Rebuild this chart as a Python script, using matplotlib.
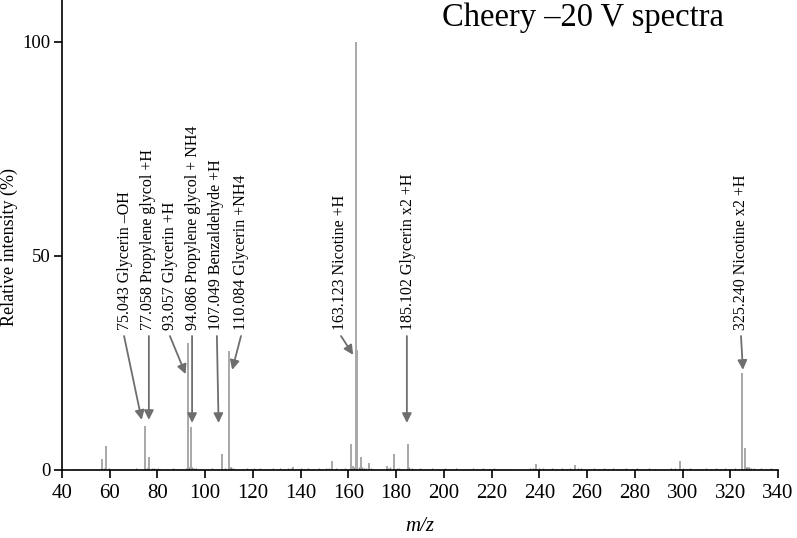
import matplotlib
matplotlib.use('Agg')
import matplotlib.pyplot as plt

plt.rcParams['font.family'] = ['Liberation Serif', 'DejaVu Serif']

# main peaks (m/z, relative intensity %)
peak_mz = [56.6, 58.6, 74.8, 76.6, 92.6, 93.9, 107.0, 109.8, 110.4, 136.9,
           153.0, 161.1, 162.0, 163.0, 163.8, 165.1, 168.8, 176.0, 179.0,
           184.8, 238.7, 254.9, 299.0, 325.1, 326.0, 327.3]
peak_int = [2.6, 5.6, 10.3, 3.0, 29.6, 10.0, 3.8, 27.9, 0.8, 0.8,
            2.1, 6.0, 1.0, 100.0, 28.0, 3.1, 1.6, 0.9, 3.7,
            6.0, 1.4, 1.2, 2.1, 22.6, 5.1, 0.8]

# small baseline peaks
noise_mz = [44.6, 46.7, 57.8, 59.5, 63.0, 65.0, 67.2, 69.1, 71.0, 75.5, 76.0,
            77.8, 78.4, 79.2, 80.1, 81.0, 84.0, 86.5, 89.0, 92.0, 93.3, 94.5,
            95.1, 96.0, 98.0, 101.0, 103.0, 105.0, 108.3, 110.9, 111.5, 112.2,
            116.0, 117.5, 119.0, 120.5, 122.0, 123.0, 126.0, 128.5, 130.0,
            131.5, 133.0, 134.5, 136.0, 138.5, 140.0, 141.5, 143.0, 145.0,
            147.5, 149.0, 150.5, 152.0, 155.0, 157.0, 158.5, 162.4, 164.4,
            165.8, 166.5, 167.2, 169.5, 170.2, 176.5, 177.3, 180.2, 181.0,
            185.6, 186.5, 188.0, 190.0, 192.5, 195.0, 198.0, 200.5, 203.0,
            205.0, 209.0, 212.0, 214.0, 216.5, 219.0, 221.0, 224.0, 226.0,
            236.0, 237.5, 240.0, 241.5, 243.0, 245.5, 247.0, 249.5, 251.0,
            253.0, 256.0, 257.5, 261.0, 263.0, 265.0, 267.0, 269.0, 271.0,
            274.0, 276.5, 279.0, 281.0, 283.5, 286.0, 288.5, 295.0, 297.0,
            300.0, 301.5, 303.0, 308.0, 310.0, 312.0, 314.0, 316.0, 318.0,
            320.0, 322.0, 324.0, 326.8, 327.8, 328.5, 330.0, 331.5, 333.0,
            335.0, 337.0, 339.0]
noise_int = [0.3, 0.3, 0.4, 0.5, 0.3, 0.3, 0.3, 0.3, 0.4, 0.5, 0.6,
             0.5, 0.4, 0.3, 0.4, 0.3, 0.3, 0.4, 0.3, 0.4, 0.6, 0.7,
             0.5, 0.4, 0.3, 0.3, 0.4, 0.3, 0.5, 0.6, 0.5, 0.3,
             0.3, 0.4, 0.3, 0.4, 0.3, 0.4, 0.3, 0.4, 0.3,
             0.4, 0.3, 0.5, 0.4, 0.3, 0.4, 0.3, 0.4, 0.3,
             0.4, 0.3, 0.4, 0.5, 0.4, 0.3, 0.4, 0.7, 0.8,
             0.6, 0.5, 0.5, 0.4, 0.3, 0.5, 0.6, 0.5, 0.4,
             0.6, 0.5, 0.3, 0.4, 0.3, 0.4, 0.3, 0.4, 0.3,
             0.4, 0.3, 0.4, 0.3, 0.4, 0.3, 0.4, 0.3, 0.3,
             0.4, 0.5, 0.5, 0.4, 0.3, 0.4, 0.3, 0.4, 0.3,
             0.4, 0.5, 0.4, 0.3, 0.4, 0.3, 0.4, 0.3, 0.4,
             0.3, 0.4, 0.3, 0.4, 0.3, 0.4, 0.3, 0.4, 0.5,
             0.4, 0.3, 0.4, 0.3, 0.4, 0.3, 0.4, 0.3, 0.4,
             0.3, 0.4, 0.3, 0.7, 0.6, 0.5, 0.4, 0.3, 0.4,
             0.3, 0.4, 0.3]

# annotations
labels = ["75.043 Glycerin –OH", "77.058 Propylene glycol +H",
          "93.057 Glycerin +H", "94.086 Propylene glycol + NH4",
          "107.049 Benzaldehyde +H", "110.084 Glycerin +NH4",
          "163.123 Nicotine +H", "185.102 Glycerin x2 +H",
          "325.240 Nicotine x2 +H"]
label_x = [66.4, 75.9, 85.4, 95.0, 104.5, 114.9, 156.5, 185.1, 324.5]
arrow_from_x = [66.0, 76.4, 85.2, 94.5, 104.9, 115.0, 156.9, 184.5, 324.5]
arrow_to_x = [73.4, 76.4, 91.8, 94.5, 105.6, 111.3, 162.0, 184.5, 325.3]
arrow_to_y = [11.7, 11.7, 22.4, 11.0, 11.0, 23.4, 26.9, 11.0, 23.4]
label_y = 32.7
arrow_from_y = 31.3

xticks = list(range(40, 341, 20))
yticks = [0, 50, 100]

fig = plt.figure(figsize=(7.97, 5.38), dpi=100)
ax = fig.add_axes([62 / 797, 68 / 538, 716 / 797, 470 / 538])

ax.vlines(noise_mz, 0, noise_int, color='#8c8c8c', lw=1.0)
ax.vlines(peak_mz, 0, peak_int, color='#a8a8a8', lw=1.4)

for lab, tx, fx, px, py in zip(labels, label_x, arrow_from_x, arrow_to_x, arrow_to_y):
    ax.text(tx, label_y, lab, rotation=90, ha='center', va='bottom', fontsize=11.5)
    ax.annotate('', xy=(px, py), xytext=(fx, arrow_from_y),
                arrowprops=dict(arrowstyle='-|>', color='#6e6e6e', lw=1.3,
                                mutation_scale=14, shrinkA=0, shrinkB=0))

ax.text(0.728, 0.962, 'Cheery –20 V spectra', transform=ax.transAxes,
        ha='center', va='center', fontsize=23.5)

ax.set_xlim(40, 340)
ax.set_ylim(0, 109.8)
ax.set_xticks(xticks)
ax.set_yticks(yticks)
ax.tick_params(axis='x', direction='out', length=6, width=1.2, labelsize=15, pad=4)
ax.tick_params(axis='y', direction='out', length=6, width=1.2, labelsize=13.5, pad=2)
for s in ['top', 'right']:
    ax.spines[s].set_visible(False)
for s in ['left', 'bottom']:
    ax.spines[s].set_linewidth(1.2)

ax.set_ylabel('Relative intensity (%)', fontsize=13)
ax.yaxis.set_label_coords(-0.061, 0.474)
ax.set_xlabel('m/z', fontsize=15, fontstyle='italic')
ax.xaxis.set_label_coords(0.499, -0.1)

fig.savefig('out.png', dpi=100)
